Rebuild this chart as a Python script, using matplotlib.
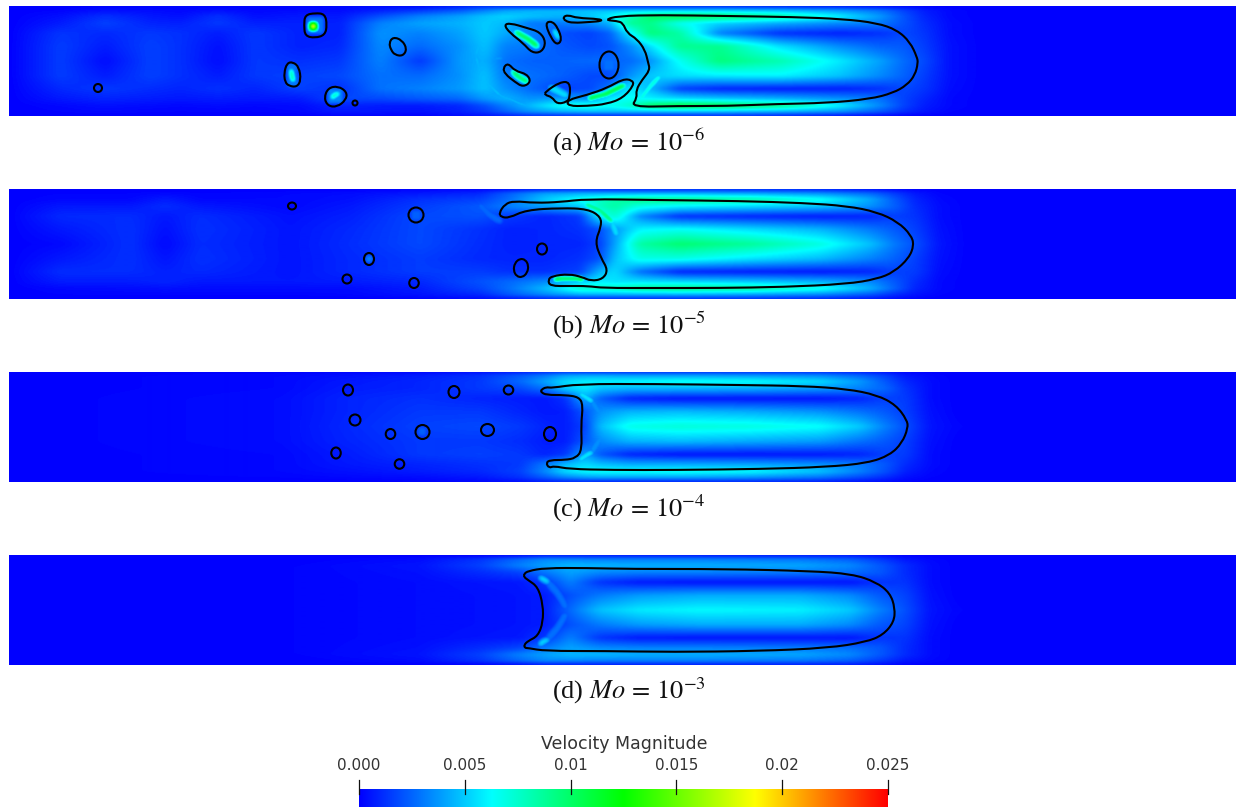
import numpy as np
import matplotlib
matplotlib.use("Agg")
import matplotlib.pyplot as plt
from matplotlib.colors import LinearSegmentedColormap, Normalize
from matplotlib.patches import Ellipse, PathPatch
from matplotlib.path import Path

plt.rcParams["mathtext.fontset"] = "stix"

# Velocity magnitude, unit 1e-4, rows at y_rows
y_rows = [0, 4, 10, 17, 27, 40, 55, 70, 83, 93, 100, 106, 110]

x_a = [9, 60, 105, 150, 180, 218, 255, 300, 340, 380, 420, 460, 485, 505, 530, 560, 590, 610, 630, 650, 680, 720, 780, 840, 880, 905, 925, 950, 985, 1236]
field_a = [
    [0, 0, 1, 1, 1, 1, 1, 1, 2, 3, 3, 8, 12, 12, 12, 12, 12, 12, 12, 12, 12, 12, 10, 8, 5, 3, 1, 0, 0, 0],
    [0, 1, 4, 3, 2, 4, 2, 3, 3, 8, 14, 22, 32, 40, 44, 46, 48, 48, 50, 50, 50, 50, 46, 38, 28, 16, 7, 2, 0, 0],
    [0, 4, 12, 6, 4, 12, 4, 6, 6, 20, 32, 40, 48, 52, 48, 44, 50, 60, 80, 100, 105, 100, 85, 60, 38, 20, 9, 2, 0, 0],
    [0, 7, 16, 9, 8, 14, 8, 8, 8, 32, 40, 44, 50, 46, 30, 30, 34, 44, 88, 92, 66, 52, 42, 34, 30, 20, 11, 3, 0, 0],
    [0, 13, 10, 14, 12, 7, 14, 8, 8, 36, 32, 40, 50, 42, 34, 20, 16, 24, 58, 95, 85, 32, 12, 8, 12, 18, 13, 3, 0, 0],
    [0, 15, 7, 16, 12, 4, 14, 8, 10, 34, 26, 36, 48, 32, 30, 22, 18, 20, 34, 55, 90, 90, 55, 34, 24, 22, 15, 4, 0, 0],
    [0, 15, 3, 16, 12, 3, 14, 12, 14, 32, 14, 38, 44, 28, 24, 24, 26, 26, 26, 36, 65, 95, 82, 58, 40, 26, 18, 4, 0, 0],
    [0, 15, 7, 16, 12, 7, 14, 16, 18, 28, 26, 36, 48, 30, 28, 24, 18, 18, 36, 50, 55, 58, 60, 48, 34, 24, 15, 4, 0, 0],
    [0, 10, 14, 11, 9, 12, 9, 16, 12, 28, 32, 38, 48, 36, 26, 16, 18, 30, 60, 46, 16, 9, 7, 7, 12, 18, 13, 3, 0, 0],
    [0, 6, 9, 7, 6, 7, 6, 7, 18, 18, 22, 26, 38, 44, 36, 40, 36, 60, 65, 60, 55, 50, 44, 36, 28, 16, 9, 2, 0, 0],
    [0, 2, 4, 3, 2, 3, 2, 3, 9, 7, 7, 10, 20, 32, 46, 65, 70, 65, 75, 100, 110, 105, 90, 60, 34, 16, 7, 2, 0, 0],
    [0, 1, 2, 1, 1, 1, 1, 2, 6, 5, 4, 8, 14, 24, 36, 44, 48, 48, 48, 48, 48, 48, 44, 36, 22, 11, 5, 1, 0, 0],
    [0, 0, 0, 0, 0, 0, 0, 0, 1, 1, 1, 3, 5, 8, 12, 12, 12, 12, 12, 12, 12, 12, 10, 6, 3, 1, 0, 0, 0, 0],
]

x_b = [9, 60, 130, 165, 200, 290, 350, 420, 480, 510, 545, 580, 600, 615, 640, 680, 750, 820, 870, 895, 915, 940, 970, 1236]
field_b = [
    [0, 0, 0, 0, 0, 0, 0, 1, 2, 5, 10, 12, 12, 12, 12, 12, 12, 10, 6, 3, 1, 0, 0, 0],
    [0, 1, 1, 2, 1, 2, 3, 6, 10, 24, 40, 44, 44, 44, 44, 44, 42, 36, 26, 15, 6, 1, 0, 0],
    [0, 2, 2, 7, 2, 2, 4, 12, 16, 28, 50, 66, 76, 84, 92, 92, 84, 66, 42, 22, 9, 2, 0, 0],
    [0, 6, 6, 11, 6, 2, 6, 15, 22, 32, 40, 50, 78, 85, 68, 60, 54, 48, 36, 24, 11, 3, 0, 0],
    [0, 10, 11, 6, 11, 4, 8, 18, 20, 14, 9, 14, 60, 75, 34, 12, 9, 7, 9, 16, 13, 3, 0, 0],
    [0, 6, 12, 4, 12, 5, 10, 18, 12, 8, 9, 12, 20, 38, 60, 64, 54, 44, 30, 22, 16, 4, 0, 0],
    [0, 2, 12, 2, 11, 5, 11, 18, 11, 8, 9, 9, 16, 40, 85, 98, 88, 70, 48, 30, 20, 5, 0, 0],
    [0, 6, 12, 5, 12, 5, 10, 15, 10, 9, 9, 12, 20, 48, 68, 68, 56, 46, 32, 24, 16, 4, 0, 0],
    [0, 11, 11, 8, 10, 5, 10, 15, 15, 12, 12, 16, 45, 55, 28, 9, 7, 6, 9, 16, 15, 3, 0, 0],
    [0, 7, 7, 9, 6, 6, 7, 10, 20, 26, 34, 50, 60, 56, 56, 54, 50, 44, 34, 22, 11, 2, 0, 0],
    [0, 2, 3, 4, 3, 3, 3, 7, 17, 28, 46, 75, 75, 78, 88, 92, 86, 68, 44, 24, 9, 2, 0, 0],
    [0, 1, 1, 1, 1, 1, 2, 5, 10, 22, 34, 44, 44, 44, 44, 44, 40, 34, 22, 11, 5, 1, 0, 0],
    [0, 0, 0, 0, 0, 0, 0, 1, 3, 6, 10, 12, 12, 12, 12, 12, 12, 10, 6, 3, 1, 0, 0, 0],
]

x_c = [9, 280, 350, 420, 480, 520, 545, 565, 585, 600, 630, 680, 750, 820, 860, 885, 905, 930, 960, 1236]
field_c = [
    [0, 0, 1, 1, 3, 6, 9, 11, 11, 10, 10, 10, 10, 10, 7, 4, 1, 0, 0, 0],
    [0, 2, 4, 7, 12, 22, 30, 40, 42, 42, 40, 40, 38, 34, 25, 16, 6, 2, 0, 0],
    [0, 2, 6, 9, 14, 26, 40, 54, 60, 60, 62, 66, 64, 54, 38, 22, 10, 3, 0, 0],
    [0, 2, 7, 9, 14, 18, 28, 50, 58, 48, 45, 45, 43, 38, 32, 26, 13, 3, 0, 0],
    [0, 3, 9, 12, 9, 7, 6, 12, 44, 24, 9, 5, 5, 5, 9, 16, 15, 3, 0, 0],
    [0, 3, 9, 14, 14, 9, 6, 7, 22, 36, 44, 46, 42, 36, 28, 22, 16, 4, 0, 0],
    [0, 3, 10, 16, 18, 14, 9, 7, 16, 46, 68, 72, 70, 64, 50, 32, 20, 5, 1, 0],
    [0, 3, 9, 14, 14, 11, 7, 7, 22, 34, 44, 46, 42, 38, 28, 22, 16, 4, 0, 0],
    [0, 2, 7, 14, 16, 14, 9, 14, 42, 22, 9, 5, 5, 6, 9, 16, 15, 3, 0, 0],
    [0, 2, 6, 9, 12, 14, 30, 46, 54, 48, 43, 43, 41, 36, 30, 22, 11, 3, 0, 0],
    [0, 2, 4, 7, 10, 16, 34, 54, 62, 64, 64, 66, 62, 48, 32, 20, 8, 2, 0, 0],
    [0, 1, 2, 3, 6, 12, 22, 32, 38, 40, 40, 40, 36, 28, 18, 11, 4, 1, 0, 0],
    [0, 0, 0, 1, 2, 4, 8, 10, 11, 10, 10, 10, 10, 8, 5, 3, 1, 0, 0, 0],
]

x_d = [9, 300, 420, 480, 520, 545, 570, 600, 640, 700, 800, 850, 880, 905, 930, 960, 1236]
field_d = [
    [0, 0, 0, 1, 4, 8, 8, 8, 8, 8, 8, 7, 4, 1, 0, 0, 0],
    [0, 0, 3, 13, 26, 34, 34, 32, 32, 32, 30, 24, 15, 6, 2, 0, 0],
    [0, 1, 5, 16, 32, 40, 45, 45, 43, 43, 41, 34, 22, 11, 3, 0, 0],
    [0, 1, 4, 11, 17, 30, 40, 34, 32, 32, 30, 27, 22, 11, 3, 0, 0],
    [0, 1, 3, 5, 6, 14, 32, 13, 6, 5, 5, 5, 13, 13, 3, 0, 0],
    [0, 1, 3, 4, 5, 7, 20, 30, 38, 42, 42, 34, 22, 17, 4, 0, 0],
    [0, 1, 3, 4, 5, 7, 26, 48, 58, 62, 60, 50, 32, 20, 5, 1, 0],
    [0, 1, 3, 4, 5, 7, 20, 30, 38, 42, 42, 34, 22, 17, 4, 0, 0],
    [0, 1, 3, 5, 6, 14, 32, 13, 6, 5, 5, 5, 13, 13, 3, 0, 0],
    [0, 1, 4, 11, 17, 30, 40, 34, 32, 32, 30, 27, 22, 11, 3, 0, 0],
    [0, 1, 5, 16, 32, 40, 45, 45, 43, 43, 41, 34, 22, 11, 3, 0, 0],
    [0, 0, 3, 13, 26, 34, 34, 32, 32, 32, 30, 24, 15, 6, 2, 0, 0],
    [0, 0, 0, 1, 4, 8, 8, 8, 8, 8, 8, 7, 4, 1, 0, 0, 0],
]

# Bubble outlines
big_a = [(605, 14), (617, 10), (660, 9), (727, 10), (793, 11), (843, 13), (877, 17), (897, 24), (910, 36), (917, 51), (918, 57), (915, 69), (907, 79), (893, 87), (870, 93), (827, 97), (777, 98), (727, 100), (677, 100), (631, 101), (637, 92), (636, 84), (642, 74), (650, 64), (648, 56), (645, 44), (637, 33), (627, 27), (623, 17), (617, 15)]
sliver_a = [(563, 11), (568, 9), (577, 12), (600, 13), (602, 15), (590, 16), (573, 17), (565, 15)]
blob1_a = [(504, 19), (510, 17), (527, 22), (540, 26), (546, 36), (542, 46), (532, 47), (523, 37), (510, 27)]
blob2_a = [(545, 17), (552, 15), (558, 22), (562, 34), (557, 39), (551, 32)]
blob3_a = [(503, 62), (508, 57), (515, 65), (527, 68), (531, 76), (523, 81), (515, 76), (505, 68)]
blob4_a = [(545, 86), (560, 76), (570, 76), (570, 91), (567, 96), (557, 98), (552, 91), (545, 89)]
crescent_a = [(567, 94), (587, 89), (607, 82), (623, 73), (632, 74), (634, 79), (623, 92), (607, 98), (587, 100), (568, 100)]
top_a = [(304, 19), (305, 9), (315, 7), (325, 8), (327, 19), (325, 29), (315, 32), (305, 30)]
left_a = [(284, 67), (287, 57), (293, 56), (299, 61), (301, 74), (297, 81), (289, 80), (285, 76)]
bottom_a = [(324, 92), (328, 82), (338, 80), (347, 86), (346, 94), (337, 101), (328, 100)]
right_a = [(389, 37), (393, 31), (402, 34), (407, 43), (403, 50), (395, 49), (391, 44)]
big_b = [(499, 24), (505, 15), (514, 12), (535, 14), (561, 13), (586, 10), (655, 11), (740, 12), (804, 14), (847, 17), (877, 23), (898, 33), (911, 46), (914, 56), (909, 69), (894, 83), (877, 90), (847, 95), (783, 98), (719, 99), (655, 99), (603, 99), (588, 97), (569, 97), (550, 97), (548, 91), (552, 87), (569, 85), (582, 88), (591, 92), (603, 90), (608, 81), (601, 69), (595, 53), (601, 38), (601, 28), (588, 20), (561, 19), (526, 21), (509, 29), (501, 28)]
big_c = [(541, 18), (546, 15), (552, 16), (578, 12), (655, 12), (740, 13), (804, 14), (847, 17), (877, 23), (896, 33), (907, 48), (908, 56), (902, 71), (890, 83), (868, 91), (826, 95), (761, 97), (676, 98), (612, 98), (569, 97), (554, 94), (549, 96), (546, 91), (550, 88), (565, 88), (576, 86), (582, 78), (581, 53), (583, 33), (579, 25), (565, 23), (546, 23), (541, 20)]
big_d = [(524, 19), (528, 16), (545, 13), (587, 13), (631, 14), (724, 14), (810, 16), (852, 19), (876, 27), (890, 38), (895, 53), (894, 67), (883, 80), (866, 87), (828, 93), (759, 96), (673, 97), (604, 96), (545, 96), (528, 93), (525, 93), (524, 90), (528, 86), (538, 81), (543, 67), (543, 50), (538, 32), (528, 25), (524, 22)]

# Small round bubbles: x, y, width, height, angle
round_a = [(98, 82, 8, 8, 0), (355, 97, 5, 5, 0), (609, 59, 19, 27, 0)]
round_b = [(292, 17, 8, 7, 0), (416, 26, 15, 15, 0), (369, 70, 10, 12, 0), (347, 90, 9, 9, 0), (414, 94, 9.5, 10, 0), (542, 60, 10, 11, 0), (521, 79, 14, 18, 10)]
round_c = [(348, 18, 10, 11, 0), (454, 20, 11, 12, 0), (508.5, 18, 9.5, 9, 0), (355, 48, 11, 11, 0), (390.5, 62, 9.5, 10, 0), (422.5, 60, 14, 14, 0), (487.5, 58, 13, 12, 0), (550, 62, 12, 14, 0), (336, 81, 9.5, 11, 0), (399.5, 92, 9.5, 9.5, 0)]
round_d = []

# Bright traces inside the field: x list, y list, value, half width
traces_a = [
    ([315], [19], 30, 9), ([313], [20], 170, 4),
    ([292, 293], [63, 76], 30, 6), ([291, 293], [65, 74], 90, 2),
    ([335], [90], 34, 8), ([332, 338], [92, 88], 80, 2),
    ([398], [40], 30, 6), ([398], [40], 42, 1),
    ([609], [59], 28, 7),
    ([516, 528, 537], [26, 33, 40], 110, 2), ([513, 520, 527], [66, 72, 76], 105, 2),
    ([590, 606, 624], [93, 89, 80], 120, 2), ([551, 558, 566], [82, 86, 90], 55, 3),
    ([554, 559], [24, 32], 60, 2),
    ([530, 500, 482, 476, 482, 500, 530], [12, 18, 32, 50, 72, 90, 102], 55, 2),
    ([480, 492, 503], [57, 54, 52], 46, 2),
    ([641, 650, 660], [94, 82, 71], 75, 2),
]
traces_b = [
    ([416], [26], 24, 6), ([369], [70], 32, 4),
    ([556, 570, 582], [91, 90, 91], 125, 2),
    ([586, 600, 612], [15, 21, 32], 100, 2), ([612, 617], [32, 45], 55, 3),
    ([610, 620, 628], [92, 78, 58], 50, 3),
    ([480, 490, 500], [16, 26, 32], 26, 3),
]
traces_c = [
    ([422.5], [60], 24, 5),
    ([580, 592], [22, 30], 62, 2), ([592, 600, 606], [30, 42, 55], 36, 3),
    ([580, 592], [89, 81], 62, 2), ([592, 600, 606], [81, 69, 58], 36, 3),
]
traces_d = [
    ([540, 548], [22, 27], 55, 2), ([548, 558, 566], [27, 38, 52], 28, 3),
    ([540, 548], [90, 85], 55, 2), ([548, 558, 566], [85, 74, 60], 28, 3),
]

captions = ["(a) $Mo\\,=\\,10^{-6}$", "(b) $Mo\\,=\\,10^{-5}$", "(c) $Mo\\,=\\,10^{-4}$", "(d) $Mo\\,=\\,10^{-3}$"]
bar_ticks = [0.0, 0.005, 0.01, 0.015, 0.02, 0.025]
bar_labels = ["0.000", "0.005", "0.01", "0.015", "0.02", "0.025"]

W, H = 1247, 810
panel_tops = [6, 189, 372, 555]
caption_ys = [142, 325, 508, 691]

cmap = LinearSegmentedColormap.from_list("velocity", ["#0000ff", "#00ffff", "#00ff00", "#ffff00", "#ff0000"])
norm = Normalize(0, 250)


def px_axes(fig, left, top, width, height):
    ax = fig.add_axes([left / W, 1 - (top + height) / H, width / W, height / H])
    ax.axis("off")
    return ax


def smooth_outline(points):
    # closed quadratic curve through the midpoints of the traced polygon
    pts = np.array(points, dtype=float)
    mids = (pts + np.roll(pts, -1, axis=0)) / 2
    verts = [mids[-1]]
    codes = [Path.MOVETO]
    for p, m in zip(pts, mids):
        verts += [p, m]
        codes += [Path.CURVE3, Path.CURVE3]
    return Path(verts, codes)


def soften(line, size):
    pad = np.pad(line, size, mode="edge")
    for _ in range(2):
        pad = np.convolve(pad, np.ones(size) / size, mode="same")
    return pad[size:-size]


def soften_2d(img, size_x, size_y):
    img = np.array([soften(r, size_x) for r in img])
    return np.array([soften(c, size_y) for c in img.T]).T


def resample(xs, field, traces):
    # the coarse table on a pixel raster, softened like a rendered solver field
    field = np.array(field, dtype=float)
    px = np.arange(9, 1237)
    py = np.arange(0, 111)
    rows = np.array([np.interp(px, xs, r) for r in field])
    img = np.array([np.interp(py, y_rows, c) for c in rows.T]).T
    img = soften_2d(img, 9, 3)

    # bright traces are laid on separately so they stay narrow
    for tx, ty, value, half in traces:
        layer = np.zeros_like(img)
        steps = np.linspace(0, len(tx) - 1, 60)
        sx = np.interp(steps, range(len(tx)), tx).astype(int) - 9
        sy = np.interp(steps, range(len(ty)), ty).astype(int)
        for x0, y0 in zip(sx, sy):
            layer[max(y0 - half, 0):y0 + half + 1, x0 - half:x0 + half + 1] = value
        img = np.maximum(img, soften_2d(layer, 5, 5))
    return img


def draw_panel(fig, top, xs, field, outlines, bubbles, traces):
    ax = px_axes(fig, 9, top, 1227, 110)
    ax.imshow(resample(xs, field, traces), cmap=cmap, norm=norm, aspect="auto", extent=[9, 1236, 110, 0], interpolation="bilinear")
    for outline in outlines:
        ax.add_patch(PathPatch(smooth_outline(outline), fc="none", ec="black", lw=1.5))
    for cx, cy, w, h, angle in bubbles:
        ax.add_patch(Ellipse((cx, cy), w, h, angle=angle, fc="none", ec="black", lw=1.5))
    ax.set_xlim(9, 1236)
    ax.set_ylim(110, 0)


fig = plt.figure(figsize=(W / 100, H / 100), dpi=100)

draw_panel(fig, panel_tops[0], x_a, field_a, [big_a, sliver_a, blob1_a, blob2_a, blob3_a, blob4_a, crescent_a, top_a, left_a, bottom_a, right_a], round_a, traces_a)
draw_panel(fig, panel_tops[1], x_b, field_b, [big_b], round_b, traces_b)
draw_panel(fig, panel_tops[2], x_c, field_c, [big_c], round_c, traces_c)
draw_panel(fig, panel_tops[3], x_d, field_d, [big_d], round_d, traces_d)

for caption, y in zip(captions, caption_ys):
    fig.text(629 / W, 1 - y / H, caption, family="Liberation Serif", fontsize=19, ha="center", va="center", color="#111111")

# colour bar
cax = px_axes(fig, 359, 789, 529, 18)
cax.imshow(np.linspace(0, 0.025, 256).reshape(1, -1), cmap=cmap, aspect="auto", extent=[0, 0.025, 0, 1])
cax.set_xlim(0, 0.025)
cax.set_ylim(0, 1)
for tick, label in zip(bar_ticks, bar_labels):
    x_px = 359 + 529 * tick / 0.025
    fig.add_artist(plt.Line2D([x_px / W] * 2, [1 - 780 / H, 1 - 794 / H], color="#111111", lw=0.9))
    fig.text(x_px / W, 1 - 766 / H, label, family="DejaVu Sans", fontsize=11, ha="center", va="center", color="#333333")
fig.text(624 / W, 1 - 744 / H, "Velocity Magnitude", family="DejaVu Sans", fontsize=12.5, ha="center", va="center", color="#333333")

fig.savefig("out.png", dpi=100)
